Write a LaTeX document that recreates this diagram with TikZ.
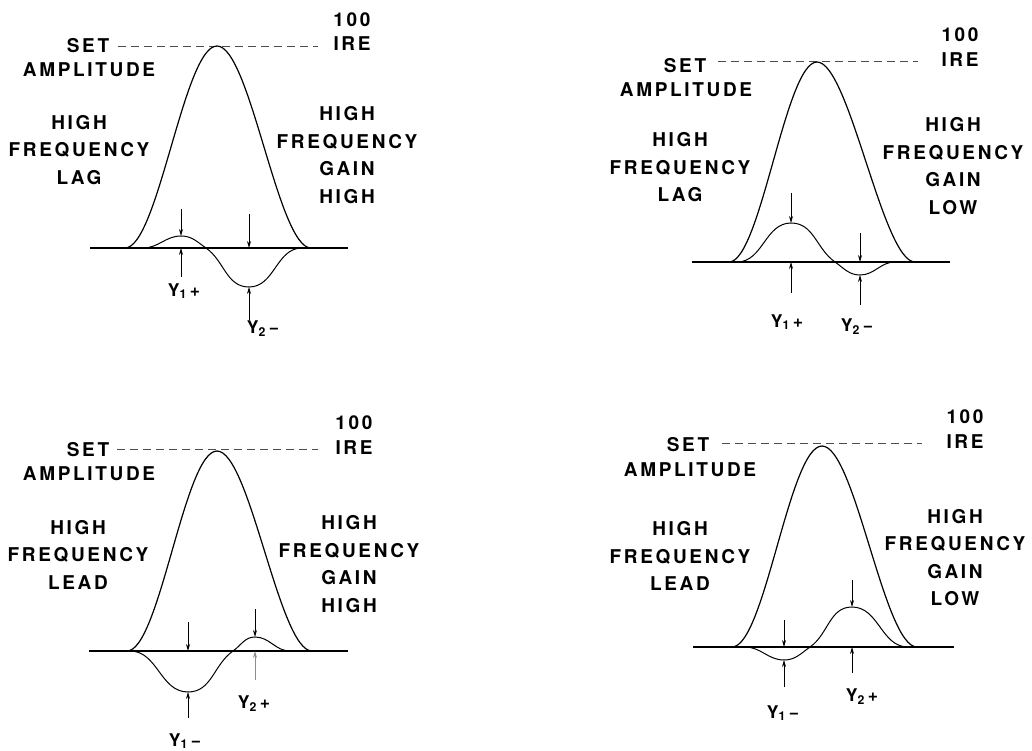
\documentclass[tikz,border=0pt]{standalone}
\usepackage{fontspec}
\setmainfont{TeX Gyre Heros}
\newfontfamily\capsfont{TeX Gyre Heros}[LetterSpace=14]
\usepackage{tikz}
\usetikzlibrary{arrows.meta}

\begin{document}
\begin{tikzpicture}[x=1pt, y=1pt,
  axis/.style={line width=1.2pt},
  pulse/.style={line width=1.2pt, line join=round},
  wave/.style={line width=1pt},
  setline/.style={line width=0.8pt, black!70, dash pattern=on 8pt off 5pt},
  marker/.style={line width=0.7pt, -{Stealth[length=7pt, width=4pt]}},
  lbl/.style={inner sep=0pt, align=center, font=\capsfont\bfseries\fontsize{19}{27.5}\selectfont},
  ylbl/.style={inner sep=0pt, font=\capsfont\bfseries\fontsize{17.5}{18}\selectfont}]
  \useasboundingbox (0,0) rectangle (1032,-751);

  % ===== Top left: lag, gain high =====
  % Baseline and set level
  \coordinate (A0) at (90,-248);
  \coordinate (A1) at (348,-248);
  \draw[axis] (A0) -- (A1);
  \coordinate (Aset0) at (118,-46);
  \coordinate (Aset1) at (318,-46);
  \draw[setline] (Aset0) -- (Aset1);
  \node[lbl] (Aset) at (88,-46) {SET};
  \node[lbl] (Aamp) at (89,-70) {AMPLITUDE};
  \node[lbl] (Ahun) at (352,-20) {100};
  \node[lbl] (Aire) at (352,-44) {IRE};
  \node[lbl] (Aleft) at (79,-150) {HIGH\\FREQUENCY\\LAG};
  \node[lbl] (Aright) at (347,-155) {HIGH\\FREQUENCY\\GAIN\\HIGH};

  % Pulse
  \coordinate (Ap0) at (125,-248);
  \coordinate (Apk) at (217,-46);
  \coordinate (Ap1) at (311,-248);
  \draw[pulse] (Ap0) to[out=0, in=180, looseness=0.38] (Apk)
    to[out=0, in=180, looseness=0.38] (Ap1);

  % Error wave: Y1 up, Y2 down
  \coordinate (Aw0) at (143,-248);
  \coordinate (Ay1) at (181,-236);
  \coordinate (Awx) at (206,-248);
  \coordinate (Ay2) at (249,-287);
  \coordinate (Aw1) at (302,-248);
  \draw[wave] (Aw0) to[out=0, in=180] (Ay1) to[out=0, in=145] (Awx)
    to[out=-35, in=180] (Ay2) to[out=0, in=180] (Aw1);

  % Markers
  \coordinate (Ab1) at (181,-248);
  \coordinate (Ab2) at (249,-248);
  \coordinate (Ay1t) at (181,-209);
  \coordinate (Ab1t) at (181,-277);
  \coordinate (Ab2t) at (249,-214);
  \coordinate (Ay2t) at (249,-320);
  \draw[marker] (Ay1t) -- (Ay1);
  \draw[marker] (Ab1t) -- (Ab1);
  \draw[marker] (Ab2t) -- (Ab2);
  \draw[marker] (Ay2t) -- (Ay2);
  \node[ylbl] (Ay1l) at (184,-291) {Y\textsubscript{1}\,+};
  \node[ylbl] (Ay2l) at (263,-329) {Y\textsubscript{2}\,−};

  % ===== Top right: lag, gain low =====
  \coordinate (B0) at (692,-262);
  \coordinate (B1) at (950,-262);
  \draw[axis] (B0) -- (B1);
  \coordinate (Bset0) at (718,-61);
  \coordinate (Bset1) at (918,-61);
  \draw[setline] (Bset0) -- (Bset1);
  \node[lbl] (Bset) at (685,-66) {SET};
  \node[lbl] (Bamp) at (686,-90) {AMPLITUDE};
  \node[lbl] (Bhun) at (960,-35) {100};
  \node[lbl] (Bire) at (960,-60) {IRE};
  \node[lbl] (Bleft) at (680,-167.5) {HIGH\\FREQUENCY\\LAG};
  \node[lbl] (Bright) at (953,-166) {HIGH\\FREQUENCY\\GAIN\\LOW};

  % Pulse
  \coordinate (Bp0) at (729,-262);
  \coordinate (Bpk) at (817,-62);
  \coordinate (Bp1) at (915,-262);
  \draw[pulse] (Bp0) to[out=0, in=180, looseness=0.37] (Bpk)
    to[out=0, in=180, looseness=0.37] (Bp1);

  % Error wave: big Y1 up, small Y2 down
  \coordinate (Bw0) at (737,-262);
  \coordinate (By1) at (791,-223);
  \coordinate (Bwx) at (835,-262);
  \coordinate (By2) at (860,-275);
  \coordinate (Bw1) at (895,-262);
  \draw[wave] (Bw0) to[out=0, in=180] (By1) to[out=0, in=145] (Bwx)
    to[out=-35, in=180] (By2) to[out=0, in=180] (Bw1);

  % Markers
  \coordinate (Bb1) at (791,-262);
  \coordinate (Bb2) at (860,-262);
  \coordinate (By1t) at (791,-193);
  \coordinate (Bb1t) at (791,-293);
  \coordinate (Bb2t) at (860,-233);
  \coordinate (By2t) at (860,-305);
  \draw[marker] (By1t) -- (By1);
  \draw[marker] (Bb1t) -- (Bb1);
  \draw[marker] (Bb2t) -- (Bb2);
  \draw[marker] (By2t) -- (By2);
  \node[ylbl] (By1l) at (787,-322) {Y\textsubscript{1}\,+};
  \node[ylbl] (By2l) at (857,-327) {Y\textsubscript{2}\,−};

  % ===== Bottom left: lead, gain high =====
  \coordinate (C0) at (89,-651);
  \coordinate (C1) at (348,-651);
  \draw[axis] (C0) -- (C1);
  \coordinate (Cset0) at (117,-449);
  \coordinate (Cset1) at (318,-449);
  \draw[setline] (Cset0) -- (Cset1);
  \node[lbl] (Cset) at (88,-450) {SET};
  \node[lbl] (Camp) at (89,-474) {AMPLITUDE};
  \node[lbl] (Chun) at (354,-423) {100};
  \node[lbl] (Cire) at (354,-448) {IRE};
  \node[lbl] (Cleft) at (78,-554.5) {HIGH\\FREQUENCY\\LEAD};
  \node[lbl] (Cright) at (349,-564) {HIGH\\FREQUENCY\\GAIN\\HIGH};

  % Pulse
  \coordinate (Cp0) at (127,-651);
  \coordinate (Cpk) at (217,-451);
  \coordinate (Cp1) at (312,-651);
  \draw[pulse] (Cp0) to[out=0, in=180, looseness=0.38] (Cpk)
    to[out=0, in=180, looseness=0.38] (Cp1);

  % Error wave: Y1 down, Y2 up
  \coordinate (Cw0) at (130,-651);
  \coordinate (Cy1) at (188,-692);
  \coordinate (Cwx) at (233,-651);
  \coordinate (Cy2) at (255,-637);
  \coordinate (Cw1) at (290,-651);
  \draw[wave] (Cw0) to[out=0, in=180] (Cy1) to[out=0, in=215] (Cwx)
    to[out=35, in=180] (Cy2) to[out=0, in=180] (Cw1);

  % Markers
  \coordinate (Cb1) at (188,-651);
  \coordinate (Cb2) at (255,-651);
  \coordinate (Cb1t) at (188,-622);
  \coordinate (Cy1t) at (188,-718);
  \coordinate (Cy2t) at (255,-609);
  \coordinate (Cb2t) at (255,-680);
  \draw[marker] (Cb1t) -- (Cb1);
  \draw[marker] (Cy1t) -- (Cy1);
  \draw[marker] (Cy2t) -- (Cy2);
  \draw[marker, black!45] (Cb2t) -- (Cb2);
  \node[ylbl] (Cy2l) at (254,-704) {Y\textsubscript{2}\,+};
  \node[ylbl] (Cy1l) at (185,-741) {Y\textsubscript{1}\,−};

  % ===== Bottom right: lead, gain low =====
  \coordinate (D0) at (693,-647);
  \coordinate (D1) at (954,-647);
  \draw[axis] (D0) -- (D1);
  \coordinate (Dset0) at (722,-443);
  \coordinate (Dset1) at (922,-443);
  \draw[setline] (Dset0) -- (Dset1);
  \node[lbl] (Dset) at (688,-445) {SET};
  \node[lbl] (Damp) at (690,-470) {AMPLITUDE};
  \node[lbl] (Dhun) at (965,-417) {100};
  \node[lbl] (Dire) at (965,-442) {IRE};
  \node[lbl] (Dleft) at (680,-556) {HIGH\\FREQUENCY\\LEAD};
  \node[lbl] (Dright) at (955,-557.5) {HIGH\\FREQUENCY\\GAIN\\LOW};

  % Pulse
  \coordinate (Dp0) at (732,-647);
  \coordinate (Dpk) at (822,-446);
  \coordinate (Dp1) at (917,-647);
  \draw[pulse] (Dp0) to[out=0, in=180, looseness=0.38] (Dpk)
    to[out=0, in=180, looseness=0.38] (Dp1);

  % Error wave: small Y1 down, big Y2 up
  \coordinate (Dw0) at (745,-647);
  \coordinate (Dy1) at (784,-660);
  \coordinate (Dwx) at (810,-647);
  \coordinate (Dy2) at (852,-607);
  \coordinate (Dw1) at (908,-647);
  \draw[wave] (Dw0) to[out=0, in=180] (Dy1) to[out=0, in=215] (Dwx)
    to[out=35, in=180] (Dy2) to[out=0, in=180] (Dw1);

  % Markers
  \coordinate (Db1) at (784,-647);
  \coordinate (Db2) at (852,-647);
  \coordinate (Db1t) at (784,-620);
  \coordinate (Dy1t) at (784,-687);
  \coordinate (Dy2t) at (852,-580);
  \coordinate (Db2t) at (852,-673);
  \draw[marker] (Db1t) -- (Db1);
  \draw[marker] (Dy1t) -- (Dy1);
  \draw[marker] (Dy2t) -- (Dy2);
  \draw[marker] (Db2t) -- (Db2);
  \node[ylbl] (Dy2l) at (862,-697) {Y\textsubscript{2}\,+};
  \node[ylbl] (Dy1l) at (783,-713) {Y\textsubscript{1}\,−};
\end{tikzpicture}
\end{document}
